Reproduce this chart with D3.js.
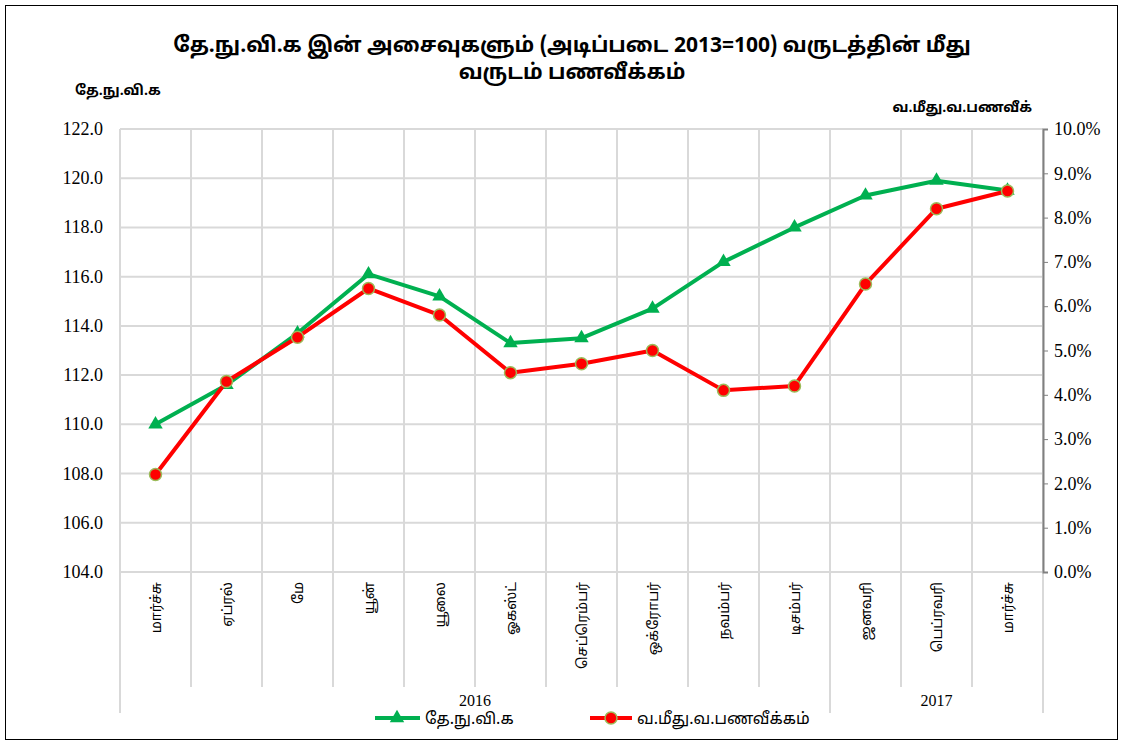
<!DOCTYPE html>
<html>
<head>
<meta charset="utf-8">
<script src="https://cdn.jsdelivr.net/npm/d3@7"></script>
<style>
  body { margin: 0; background: #fff; }
  text { font-family: "Noto Sans Tamil", "Lohit Tamil", "Latha", sans-serif; }
  .num { font-family: "Liberation Serif", "Times New Roman", serif; }
</style>
</head>
<body>
<script>
// chart data
var months = ["மார்ச்சு","ஏப்ரல்","மே","யூன்","யூலை","ஓகஸ்ட்","செப்ரெம்பர்","ஒக்ரோபர்","நவம்பர்","டிசம்பர்","ஜனவரி","பெப்ரவரி","மார்ச்சு"];
var years = [{label: "2016", from: 0, to: 10}, {label: "2017", from: 10, to: 13}];
var cpi = [110.0, 111.6, 113.7, 116.1, 115.2, 113.3, 113.5, 114.7, 116.6, 118.0, 119.3, 119.9, 119.5];
var inflation = [2.2, 4.3, 5.3, 6.4, 5.8, 4.5, 4.7, 5.0, 4.1, 4.2, 6.5, 8.2, 8.6];
var leftTicks = [104, 106, 108, 110, 112, 114, 116, 118, 120, 122];
var rightTicks = [0, 1, 2, 3, 4, 5, 6, 7, 8, 9, 10];

var titleLines = ["தே.நு.வி.க இன் அசைவுகளும் (அடிப்படை 2013=100) வருடத்தின் மீது", "வருடம் பணவீக்கம்"];
var seriesNames = ["தே.நு.வி.க", "வ.மீது.வ.பணவீக்கம்"];

var width = 1124, height = 745;
var plotLeft = 120, plotRight = 1043, plotTop = 129, plotBottom = 572;

var svg = d3.select("body").append("svg")
    .attr("width", width)
    .attr("height", height);

// outer frame
svg.append("rect")
    .attr("x", 5.5).attr("y", 5.5)
    .attr("width", 1112).attr("height", 734)
    .attr("fill", "none")
    .attr("stroke", "#000")
    .attr("stroke-width", 1);

var x = d3.scaleBand()
    .domain(d3.range(months.length))
    .range([plotLeft, plotRight]);

var yL = d3.scaleLinear().domain([104, 122]).range([plotBottom, plotTop]);
var yR = d3.scaleLinear().domain([0, 10]).range([plotBottom, plotTop]);

// horizontal gridlines
svg.append("g").selectAll("line")
    .data(leftTicks)
    .enter().append("line")
    .attr("x1", plotLeft).attr("x2", plotRight)
    .attr("y1", function(d){ return yL(d); })
    .attr("y2", function(d){ return yL(d); })
    .attr("stroke", "#d9d9d9")
    .attr("stroke-width", 2);

// vertical category lines (through the label area)
var bounds = d3.range(months.length + 1);
svg.append("g").selectAll("line")
    .data(bounds)
    .enter().append("line")
    .attr("x1", function(d){ return plotLeft + d * x.step(); })
    .attr("x2", function(d){ return plotLeft + d * x.step(); })
    .attr("y1", plotTop)
    .attr("y2", function(d){
      return (d == 0 || d == 10 || d == 13) ? 713 : 687;
    })
    .attr("stroke", "#d9d9d9")
    .attr("stroke-width", 2);

// left tick labels
svg.append("g").selectAll("text")
    .data(leftTicks)
    .enter().append("text")
    .attr("class", "num")
    .attr("x", 103)
    .attr("y", function(d){ return yL(d) + 6; })
    .attr("text-anchor", "end")
    .attr("font-size", 18)
    .text(function(d){ return d3.format(".1f")(d); });

// right axis
var rightAxis = d3.axisRight(yR)
    .tickValues(rightTicks)
    .tickSize(5)
    .tickFormat(function(d){ return d3.format(".1f")(d) + "%"; });
var ra = svg.append("g")
    .attr("transform", "translate(" + plotRight + ",0)")
    .call(rightAxis);
ra.select(".domain").attr("stroke", "#808080").attr("stroke-width", 2);
ra.selectAll(".tick line").attr("stroke", "#808080");
ra.selectAll(".tick text")
    .attr("class", "num")
    .attr("x", 11)
    .attr("font-size", 18)
    .attr("fill", "#000");

// month labels
svg.append("g").selectAll("text")
    .data(months)
    .enter().append("text")
    .attr("transform", function(d, i){
      return "translate(" + (x(i) + x.bandwidth()/2 + 5) + ",582) rotate(-90)";
    })
    .attr("text-anchor", "end")
    .attr("font-size", 14)
    .text(function(d){ return d; });

// year labels
svg.append("g").selectAll("text")
    .data(years)
    .enter().append("text")
    .attr("class", "num")
    .attr("x", function(d){ return (plotLeft + d.from * x.step() + plotLeft + d.to * x.step()) / 2; })
    .attr("y", 706)
    .attr("text-anchor", "middle")
    .attr("font-size", 16)
    .text(function(d){ return d.label; });

// lines
var cx = function(d, i){ return x(i) + x.bandwidth()/2; };
var greenLine = d3.line().x(cx).y(function(d){ return yL(d); });
var redLine = d3.line().x(cx).y(function(d){ return yR(d); });

svg.append("path")
    .datum(cpi)
    .attr("d", greenLine)
    .attr("fill", "none")
    .attr("stroke", "#00b050")
    .attr("stroke-width", 4)
    .attr("stroke-linejoin", "round");

var tri = d3.symbol().type(d3.symbolTriangle).size(90);
svg.append("g").selectAll("path")
    .data(cpi)
    .enter().append("path")
    .attr("d", tri)
    .attr("transform", function(d, i){ return "translate(" + cx(d, i) + "," + yL(d) + ")"; })
    .attr("fill", "#00b050");

svg.append("path")
    .datum(inflation)
    .attr("d", redLine)
    .attr("fill", "none")
    .attr("stroke", "#ff0000")
    .attr("stroke-width", 4)
    .attr("stroke-linejoin", "round");

svg.append("g").selectAll("circle")
    .data(inflation)
    .enter().append("circle")
    .attr("cx", cx)
    .attr("cy", function(d){ return yR(d); })
    .attr("r", 6)
    .attr("fill", "#ff0000")
    .attr("stroke", "#9bbb59")
    .attr("stroke-width", 1.5);

// title
svg.append("g").selectAll("text")
    .data(titleLines)
    .enter().append("text")
    .attr("x", 572)
    .attr("y", function(d, i){ return 52 + i * 27; })
    .attr("text-anchor", "middle")
    .attr("font-size", 21)
    .attr("font-weight", "bold")
    .text(function(d){ return d; });

// axis titles
svg.append("text")
    .attr("x", 75).attr("y", 95)
    .attr("font-size", 14)
    .attr("font-weight", "bold")
    .text("தே.நு.வி.க");

svg.append("text")
    .attr("x", 1032).attr("y", 112)
    .attr("text-anchor", "end")
    .attr("font-size", 14)
    .attr("font-weight", "bold")
    .text("வ.மீது.வ.பணவீக்");

// legend
var legend = svg.append("g").attr("transform", "translate(0,718)");
legend.append("line")
    .attr("x1", 375).attr("x2", 420)
    .attr("stroke", "#00b050").attr("stroke-width", 4);
legend.append("path")
    .attr("d", tri)
    .attr("transform", "translate(397,0)")
    .attr("fill", "#00b050");
legend.append("text")
    .attr("x", 425).attr("y", 6)
    .attr("font-size", 16)
    .text(seriesNames[0]);

legend.append("line")
    .attr("x1", 590).attr("x2", 632)
    .attr("stroke", "#ff0000").attr("stroke-width", 4);
legend.append("circle")
    .attr("cx", 611).attr("r", 6)
    .attr("fill", "#ff0000")
    .attr("stroke", "#9bbb59")
    .attr("stroke-width", 1.5);
legend.append("text")
    .attr("x", 637).attr("y", 6)
    .attr("font-size", 16)
    .text(seriesNames[1]);
</script>
</body>
</html>
